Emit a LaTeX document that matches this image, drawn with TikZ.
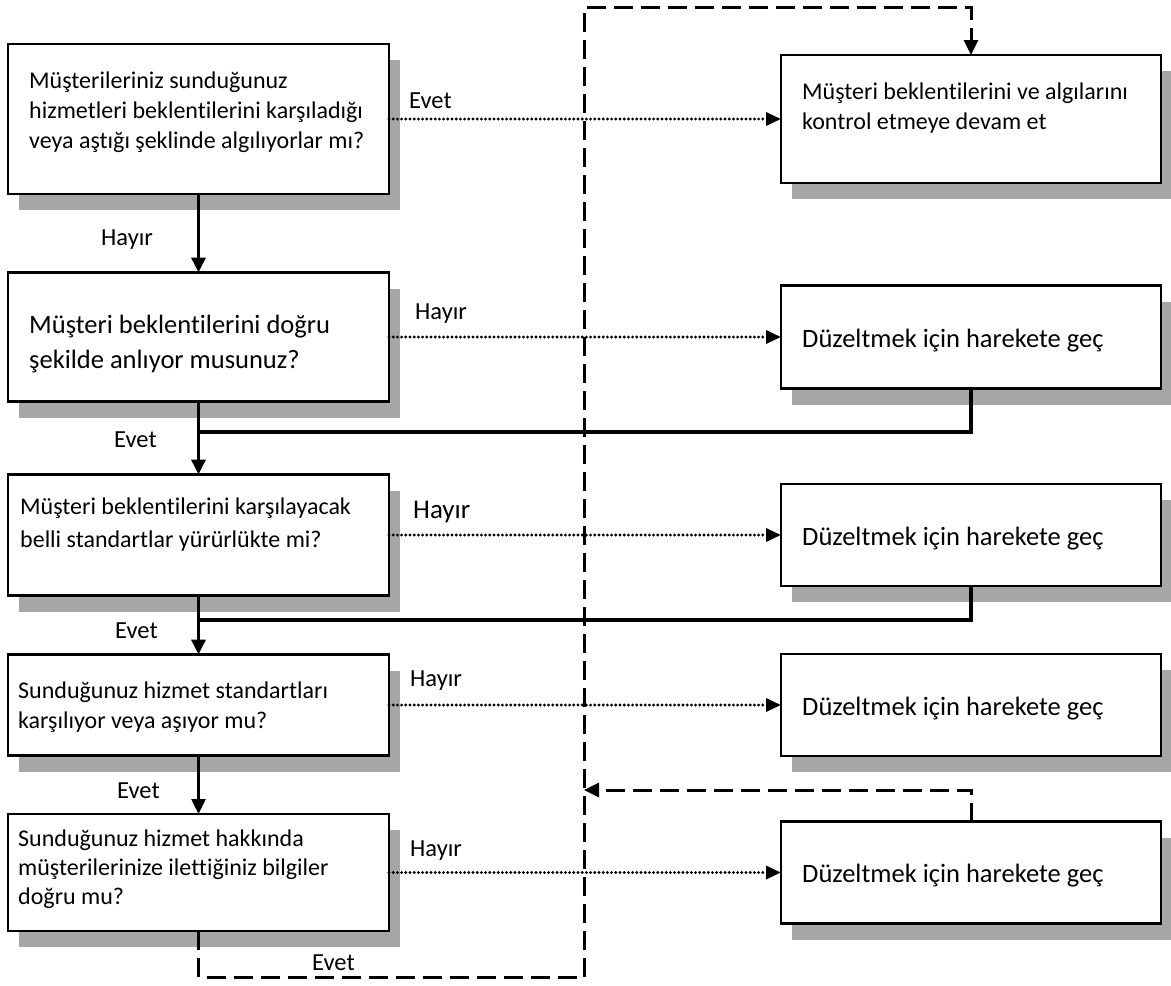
\documentclass[tikz,border=0pt]{standalone}
\usepackage{fontspec}
\setmainfont{Carlito}[Ligatures=NoCommon]
\usetikzlibrary{arrows.meta,shadows}
\definecolor{shade}{RGB}{166,166,166}
\begin{document}
\begin{tikzpicture}[x=1pt,y=-1pt,
  box/.style={draw=black, line width=2.5pt, fill=white, inner sep=0pt, outer sep=0pt,
    minimum width=381pt,
    drop shadow={shadow xshift=11pt, shadow yshift=-16pt, fill=shade, opacity=1}},
  rbox/.style={box, minimum width=380pt},
  % multi-line texts are placed by the baseline of their last line
  small/.style={font=\fontsize{24}{30}\selectfont, inner sep=0pt, align=left, anchor=base west},
  big/.style={font=\fontsize{26.5}{35}\selectfont, inner sep=0pt, align=left, anchor=base west},
  lbl/.style={font=\fontsize{24.5}{30}\selectfont, inner sep=0pt, anchor=base west},
  tip/.style={-{Triangle[length=15pt,width=14pt]}},
  flow/.style={line width=3.5pt, tip},
  link/.style={line width=3.5pt},
  dotarrow/.style={line width=3.2pt, dash pattern=on 0pt off 4.2pt, line cap=round,
    -{Triangle[length=15pt,width=13pt]}},
  loop/.style={line width=3pt, dash pattern=on 19pt off 8pt}
]
\fill[white] (0,0) rectangle (1171,986);
\useasboundingbox (0,0) rectangle (1171,986);

% question boxes (left column)
\node[box, minimum height=150pt] (q1) at (198.5,119) {};
\node[box, minimum height=129pt] (q2) at (198.5,337) {};
\node[box, minimum height=121pt] (q3) at (198.5,535) {};
\node[box, minimum height=101pt] (q4) at (198.5,705) {};
\node[box, minimum height=117pt] (q5) at (198.5,872.5) {};

% action boxes (right column)
\node[rbox, minimum height=128pt] (r1) at (971,119) {};
\node[rbox, minimum height=103pt] (r2) at (971,337) {};
\node[rbox, minimum height=102pt] (r3) at (971,535) {};
\node[rbox, minimum height=102pt] (r4) at (971,705) {};
\node[rbox, minimum height=102pt] (r5) at (971,872.5) {};

% box texts
\node[small] (t1) at (29,148) {Müşterileriniz sunduğunuz\\hizmetleri beklentilerini karşıladığı\\veya aştığı şeklinde algılıyorlar mı?};
\node[big] (t2) at (29,368) {Müşteri beklentilerini doğru\\şekilde anlıyor musunuz?};
\node[small, font=\fontsize{24}{33}\selectfont] (t3) at (20,547) {Müşteri beklentilerini karşılayacak\\belli standartlar yürürlükte mi?};
\node[small] (t4) at (18,728) {Sunduğunuz hizmet standartları\\karşılıyor veya aşıyor mu?};
\node[small, font=\fontsize{24}{29}\selectfont] (t5) at (18,904) {Sunduğunuz hizmet hakkında\\müşterilerinize ilettiğiniz bilgiler\\doğru mu?};
\node[small] (u1) at (802,129) {Müşteri beklentilerini ve algılarını\\kontrol etmeye devam et};
\node[big] (u2) at (802,347) {Düzeltmek için harekete geç};
\node[big] (u3) at (802,545) {Düzeltmek için harekete geç};
\node[big] (u4) at (802,715) {Düzeltmek için harekete geç};
\node[big] (u5) at (802,882) {Düzeltmek için harekete geç};

% junction points and loop corners
\coordinate (j2) at (198.5,432);
\coordinate (j3) at (198.5,620);
\coordinate (c1) at (584,977);
\coordinate (c2) at (584,7);
\coordinate (c3) at (584,790);

% main flow
\draw[flow] (q1.south) -- (q2.north);
\draw[flow] (q2.south) -- (q3.north);
\draw[flow] (q3.south) -- (q4.north);
\draw[flow, line width=2.5pt] (q4.south) -- (q5.north);
\draw[link] (r2.south) |- (j2);
\draw[link] (r3.south) |- (j3);

% answers leading to the right column
\draw[dotarrow] (q1.east) -- (r1.west);
\draw[dotarrow] (q2.east) -- (r2.west);
\draw[dotarrow] (q3.east) -- (r3.west);
\draw[dotarrow] (q4.east) -- (r4.west);
\draw[dotarrow] (q5.east) -- (r5.west);

% feedback loops
\draw[loop, tip] (q5.south) |- (c1) -- (c2) -| (r1.north);
\draw[loop, tip] (r5.north) |- (c3);

% answer labels
\node[lbl] (a1) at (409,108) {Evet};
\node[lbl] (a2) at (101,245) {Hayır};
\node[lbl] (a3) at (415,319) {Hayır};
\node[lbl] (a4) at (114,447) {Evet};
\node[lbl, font=\fontsize{27}{30}\selectfont] (a5) at (413,518) {Hayır};
\node[lbl] (a6) at (115,638) {Evet};
\node[lbl] (a7) at (410,686) {Hayır};
\node[lbl] (a8) at (117,798) {Evet};
\node[lbl] (a9) at (410,856) {Hayır};
\node[lbl] (a10) at (312,970) {Evet};
\end{tikzpicture}
\end{document}
